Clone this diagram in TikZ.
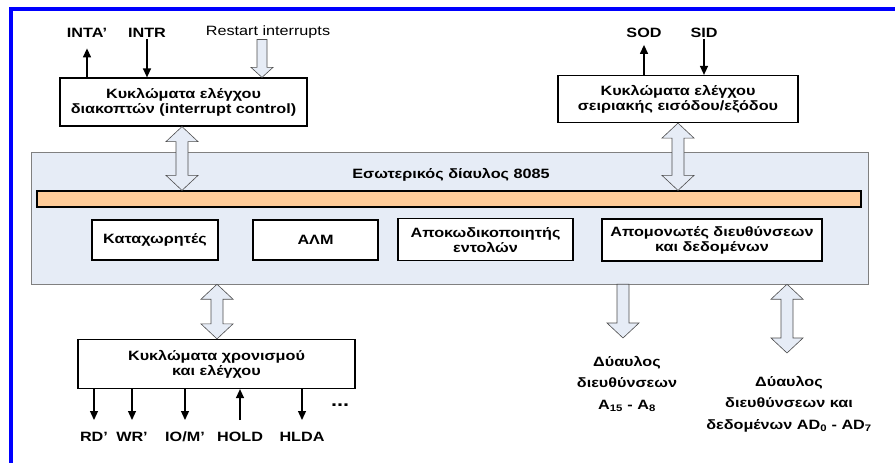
\documentclass[tikz,border=0pt]{standalone}
\usepackage{fontspec}
\setmainfont[FakeStretch=1.2]{Liberation Sans}
\usetikzlibrary{arrows.meta,positioning,calc}
\definecolor{panelblue}{RGB}{230,236,246}
\definecolor{busorange}{RGB}{255,204,153}
\definecolor{frameblue}{RGB}{0,0,255}

\tikzset{
  unitbox/.style={draw,line width=1.2pt,fill=white,align=center,inner sep=1pt,
    font=\bfseries\fontsize{13.5}{15}\selectfont},
  sig/.style={font=\bfseries\fontsize{13.5}{15}\selectfont,inner sep=1pt},
  buslabel/.style={align=center,inner sep=1pt,font=\bfseries\fontsize{13.5}{21.5}\selectfont},
  wire/.style={line width=1.3pt,-{Triangle[length=9pt,width=8pt]}},
  hollow/.style={draw=black!70,fill=panelblue,line width=0.6pt}
}

% hollow bus arrows (#3 = half shaft, #4 = half head, #5 = head length, in pt)
\newcommand\busboth[5]{%
  \path[hollow] let \p1=#1, \p2=#2 in
    (\x1,\y1) -- (\x1+#4pt,\y1-#5pt) -- (\x1+#3pt,\y1-#5pt) -- (\x1+#3pt,\y2+#5pt)
    -- (\x1+#4pt,\y2+#5pt) -- (\x1,\y2) -- (\x1-#4pt,\y2+#5pt) -- (\x1-#3pt,\y2+#5pt)
    -- (\x1-#3pt,\y1-#5pt) -- (\x1-#4pt,\y1-#5pt) -- cycle;}
\newcommand\busdown[5]{%
  \path[hollow] let \p1=#1, \p2=#2 in
    (\x1-#3pt,\y1) -- (\x1+#3pt,\y1) -- (\x1+#3pt,\y2+#5pt) -- (\x1+#4pt,\y2+#5pt)
    -- (\x1,\y2) -- (\x1-#4pt,\y2+#5pt) -- (\x1-#3pt,\y2+#5pt) -- cycle;}

\begin{document}
\begin{tikzpicture}[x=1pt,y=-1pt]
  \useasboundingbox (0,0) rectangle (895,463);
  % outer frame
  \draw[frameblue,line width=4pt] (11,470) -- (11,9) -- (900,9);

  % internal bus panel
  \node[draw=black!50,fill=panelblue,minimum width=837,minimum height=132,inner sep=0]
       (panel) at (450,218) {};
  \node[sig] (bustitle) at (451,175) {Εσωτερικός δίαυλος 8085};
  \node[draw,line width=1.2pt,fill=busorange,minimum width=824,minimum height=16,inner sep=0]
       (bar) at (449,199) {};

  % units on the bus
  \node[unitbox,minimum width=126,minimum height=40] (regs) at (155,240) {Καταχωρητές};
  \node[unitbox,minimum width=125,minimum height=40] (alu) at (315.5,240) {ΑΛΜ};
  \node[unitbox,minimum width=175,minimum height=42,anchor=north] (dec) at (485.5,218)
       {Αποκωδικοποιητής\\εντολών};
  \node[unitbox,minimum width=220,minimum height=42] (buf) at (712,240)
       {Απομονωτές διευθύνσεων\\και δεδομένων};

  % interrupt control
  \node[unitbox,minimum width=247,minimum height=48] (intc) at (183.5,102)
       {Κυκλώματα ελέγχου\\διακοπτών (interrupt control)};
  \node[sig] (inta) at (87,33) {INTA'};
  \node[sig] (intr) at (147,33) {INTR};
  \node[font=\fontsize{13.5}{15}\selectfont,inner sep=1pt] (rst) at (268,32) {Restart interrupts};
  \draw[wire] (intc.north -| inta) -- ++(0,-29);
  \draw[wire] (intr.south) -- (intc.north -| intr);
  \busdown{(rst.south -| 262,0)}{(intc.north -| 262,0)}{5}{11}{10}
  \busboth{(intc.south -| 182,0)}{(bar.north -| 182,0)}{6}{16}{15}

  % serial I/O control
  \node[unitbox,minimum width=240,minimum height=47] (sio) at (678,99)
       {Κυκλώματα ελέγχου\\σειριακής εισόδου/εξόδου};
  \node[sig] (sod) at (644,33) {SOD};
  \node[sig] (sid) at (704,33) {SID};
  \draw[wire] (sio.north -| sod) -- ++(0,-30);
  \draw[wire] (sid.south) -- (sio.north -| sid);
  \busboth{(sio.south -| 678,0)}{(bar.north -| 678,0)}{6}{16}{15}

  % timing and control
  \node[unitbox,minimum width=277,minimum height=49] (tim) at (216.5,364)
       {Κυκλώματα χρονισμού\\και ελέγχου};
  \busboth{(panel.south -| 217,0)}{(tim.north -| 217,0)}{6}{16}{15}
  \foreach \nm/\xx/\txt in {rd/94/{RD'}, wr/132/{WR'}, iom/185/{IO/M'}, hold/240/{HOLD}, hlda/302/{HLDA}}{
    \node[sig] (\nm) at (\xx,437) {\txt};
    \coordinate (\nm-end) at (\xx,420);
  }
  \foreach \nm in {rd,wr,iom,hlda}{
    \draw[wire] (tim.south -| \nm) -- (\nm-end);
  }
  \draw[wire] (hold-end) -- (tim.south -| hold);
  \node[font=\bfseries\fontsize{18}{20}\selectfont,inner sep=1pt] (more) at (340,405) {...};

  % address bus
  \coordinate (abusend) at (623,338);
  \busdown{(panel.south -| abusend)}{(abusend)}{6}{16}{15}
  \node[buslabel] (abus) at (627,384)
       {Δύαυλος\\διευθύνσεων\\A\textsubscript{15} - A\textsubscript{8}};

  % address/data bus
  \coordinate (adbusend) at (787,353);
  \busboth{(panel.south -| adbusend)}{(adbusend)}{6}{16}{15}
  \node[buslabel] (adbus) at (789,404)
       {Δύαυλος\\διευθύνσεων και\\δεδομένων AD\textsubscript{0} - AD\textsubscript{7}};
\end{tikzpicture}
\end{document}
